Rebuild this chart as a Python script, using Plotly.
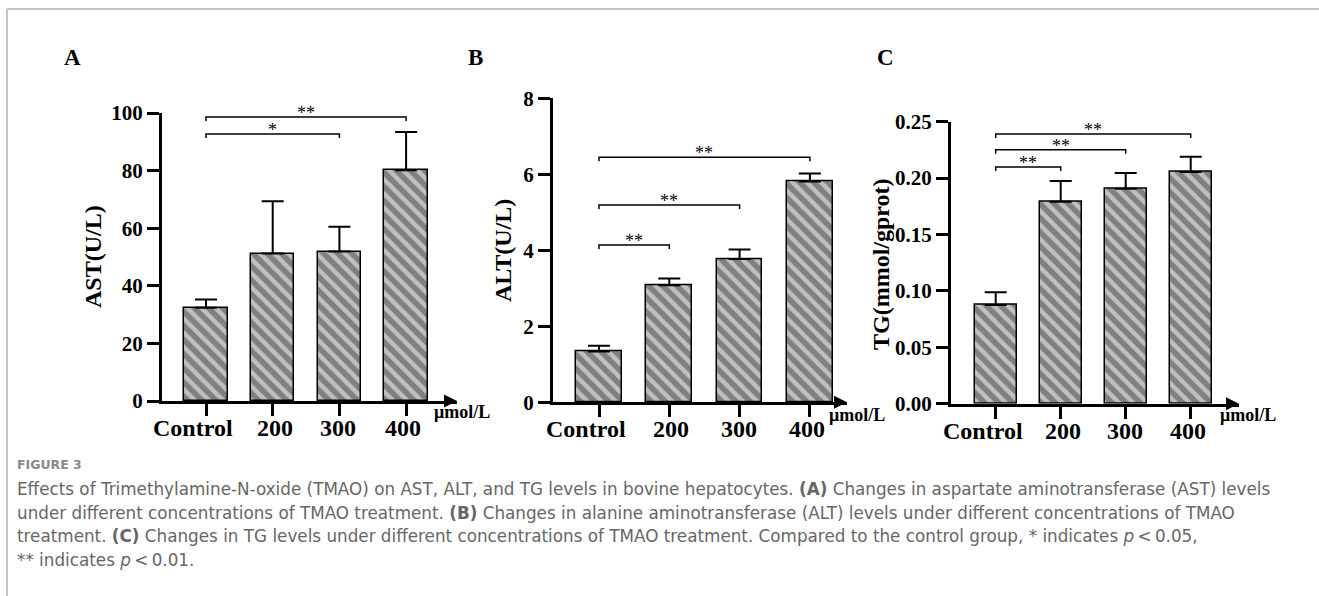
import plotly.graph_objects as go

# ---------------- data ----------------
categories = ["Control", "200", "300", "400"]

ast_mean = [32.4, 51.2, 51.9, 80.1]
ast_err = [2.8, 18.2, 8.6, 13.3]

alt_mean = [1.34, 3.08, 3.77, 5.81]
alt_err = [0.15, 0.18, 0.25, 0.21]

tg_mean = [0.0875, 0.179, 0.1905, 0.2055]
tg_err = [0.0113, 0.0185, 0.014, 0.0135]

ast_ticks = [0, 20, 40, 60, 80, 100]
alt_ticks = [0, 2, 4, 6, 8]
tg_ticks = [0.0, 0.05, 0.10, 0.15, 0.20, 0.25]

# significance brackets: (from index, to index, height, label)
ast_sig = [(0, 3, 98.6, "**"), (0, 2, 92.7, "*")]
alt_sig = [(0, 1, 4.14, "**"), (0, 2, 5.19, "**"), (0, 3, 6.45, "**")]
tg_sig = [(0, 1, 0.2098, "**"), (0, 2, 0.2252, "**"), (0, 3, 0.2392, "**")]

panel_letters = ["A", "B", "C"]
y_titles = ["AST(U/L)", "ALT(U/L)", "TG(mmol/gprot)"]
unit_label = "μmol/L"

caption_head = "FIGURE 3"
caption_lines = [
    "Effects of Trimethylamine-N-oxide (TMAO) on AST, ALT, and TG levels in bovine hepatocytes. <b>(A)</b> Changes in aspartate aminotransferase (AST) levels",
    "under different concentrations of TMAO treatment. <b>(B)</b> Changes in alanine aminotransferase (ALT) levels under different concentrations of TMAO",
    "treatment. <b>(C)</b> Changes in TG levels under different concentrations of TMAO treatment. Compared to the control group, * indicates <i>p</i>\u2009&lt;\u20090.05,",
    "** indicates <i>p</i>\u2009&lt;\u20090.01.",
]

# ---------------- layout geometry (pixels) ----------------
W, H = 1319, 596
SERIF = "Liberation Serif, Times New Roman, serif"
SANS = "DejaVu Sans, Open Sans, sans-serif"

panels = [
    dict(ax=162, c0=206, sp=66.7, xend=457, yb=401, yt=113, ymax=100, ticks=ast_ticks, fmt="d",
         mean=ast_mean, err=ast_err, sig=ast_sig, letter=(72, 57), ytitle=(93, 257), unit=(432, 412)),
    dict(ax=553, c0=599, sp=70.3, xend=847, yb=402.3, yt=98.3, ymax=8, ticks=alt_ticks, fmt="d",
         mean=alt_mean, err=alt_err, sig=alt_sig, letter=(475, 57), ytitle=(503, 251), unit=(827, 415)),
    dict(ax=951, c0=995.7, sp=65, xend=1239, yb=403.7, yt=121.7, ymax=0.25, ticks=tg_ticks, fmt=".2f",
         mean=tg_mean, err=tg_err, sig=tg_sig, letter=(885, 57), ytitle=(881, 264), unit=(1218, 415)),
]
label_nudge = [-13, 2, -1, -3]  # px offsets of the category labels, as in the original

xpos = list(range(len(categories)))

fig = go.Figure()
annotations = []
shapes = []

for k, p in enumerate(panels):
    n = "" if k == 0 else str(k + 1)
    xa, ya = "x" + n, "y" + n
    fig.add_trace(go.Bar(
        x=xpos, y=p["mean"], xaxis=xa, yaxis=ya, width=0.65,
        marker=dict(color="#808080", line=dict(color="black", width=1.5),
                    pattern=dict(shape="\\", fgcolor="white", bgcolor="#808080",
                                 size=10, solidity=0.45, fillmode="overlay")),
        error_y=dict(type="data", array=p["err"], arrayminus=[0] * len(p["err"]),
                     symmetric=False, color="black", thickness=2, width=11),
        showlegend=False, hoverinfo="skip",
    ))
    r0 = (p["ax"] - p["c0"]) / p["sp"]
    r1 = (p["xend"] - p["c0"]) / p["sp"]
    fig.layout["xaxis" + n] = dict(
        domain=[p["ax"] / W, p["xend"] / W], anchor=ya, range=[r0, r1],
        tickmode="array", tickvals=xpos, showticklabels=False,
        showline=True, linecolor="black", linewidth=3,
        ticks="outside", ticklen=12, tickwidth=3, tickcolor="black",
        showgrid=False, zeroline=False, fixedrange=True, automargin=False,
    )
    fig.layout["yaxis" + n] = dict(
        domain=[1 - p["yb"] / H, 1 - p["yt"] / H], anchor=xa, range=[0, p["ymax"]],
        tickmode="array", tickvals=p["ticks"], tickformat=p["fmt"],
        showline=True, linecolor="black", linewidth=3,
        ticks="outside", ticklen=12, tickwidth=3, tickcolor="black",
        tickfont=dict(family=SERIF, size=21, color="black", weight="bold"),
        showgrid=False, zeroline=False, fixedrange=True, automargin=False,
    )
    # category labels
    for ci, cat in enumerate(categories):
        annotations.append(dict(x=xpos[ci], y=0, xref=xa, yref=ya, text="<b>" + cat + "</b>",
                                showarrow=False, xanchor="center", yanchor="top",
                                xshift=label_nudge[ci], yshift=-12,
                                font=dict(family=SERIF, size=24, color="black")))
    # arrow head at end of x axis
    annotations.append(dict(
        x=1, y=0, xref=xa + " domain", yref=ya, text="", showarrow=True,
        ax=-14, ay=0, arrowhead=2, arrowsize=1.3, arrowwidth=2, arrowcolor="black", standoff=0,
    ))
    # significance brackets
    upp = p["ymax"] / (p["yb"] - p["yt"])  # data units per pixel
    for (i, j, yv, lab) in p["sig"]:
        x0, x1 = xpos[i], xpos[j]
        d = 4 * upp
        shapes.append(dict(type="path", xref=xa, yref=ya,
                           path=f"M {x0},{yv - d} L {x0},{yv} L {x1},{yv} L {x1},{yv - d}",
                           line=dict(color="black", width=1.5)))
        annotations.append(dict(x=(x0 + x1) / 2, y=yv, xref=xa, yref=ya, text=lab,
                                showarrow=False, yanchor="middle", yshift=4,
                                font=dict(family=SERIF, size=18, color="black")))
    # panel letter
    annotations.append(dict(x=p["letter"][0] / W, y=1 - p["letter"][1] / H, xref="paper", yref="paper",
                            text="<b>" + panel_letters[k] + "</b>", showarrow=False,
                            xanchor="center", yanchor="middle",
                            font=dict(family=SERIF, size=23, color="black")))
    # y title
    annotations.append(dict(x=p["ytitle"][0] / W, y=1 - p["ytitle"][1] / H, xref="paper", yref="paper",
                            text="<b>" + y_titles[k] + "</b>", textangle=-90, showarrow=False,
                            xanchor="center", yanchor="middle",
                            font=dict(family=SERIF, size=24, color="black")))
    # unit label
    annotations.append(dict(x=p["unit"][0] / W, y=1 - p["unit"][1] / H, xref="paper", yref="paper",
                            text="<b>" + unit_label + "</b>", showarrow=False,
                            xanchor="left", yanchor="middle",
                            font=dict(family=SERIF, size=18, color="black")))

# caption
annotations.append(dict(x=15 / W, y=1 - 464 / H, xref="paper", yref="paper", text=caption_head,
                        showarrow=False, xanchor="left", yanchor="middle",
                        font=dict(family=SANS, size=12.5, color="#8a8a8a", weight=600)))
for li, line in enumerate(caption_lines):
    annotations.append(dict(x=15 / W, y=1 - (489 + 23.5 * li) / H, xref="paper", yref="paper",
                            text=line, showarrow=False, xanchor="left", yanchor="middle",
                            font=dict(family=SANS, size=16.8, color="#666666")))

# frame lines
shapes.append(dict(type="line", xref="paper", yref="paper", x0=7 / W, x1=1, y0=1 - 9 / H, y1=1 - 9 / H,
                   line=dict(color="#c4c4c4", width=2)))
shapes.append(dict(type="line", xref="paper", yref="paper", x0=7 / W, x1=7 / W, y0=0, y1=1 - 9 / H,
                   line=dict(color="#c4c4c4", width=2)))

fig.update_layout(
    template="none",
    width=W, height=H, autosize=False,
    margin=dict(l=0, r=0, t=0, b=0, pad=0),
    paper_bgcolor="white", plot_bgcolor="white",
    annotations=annotations, shapes=shapes, bargap=0,
)

fig.write_html("out.html", config={"displayModeBar": False})
